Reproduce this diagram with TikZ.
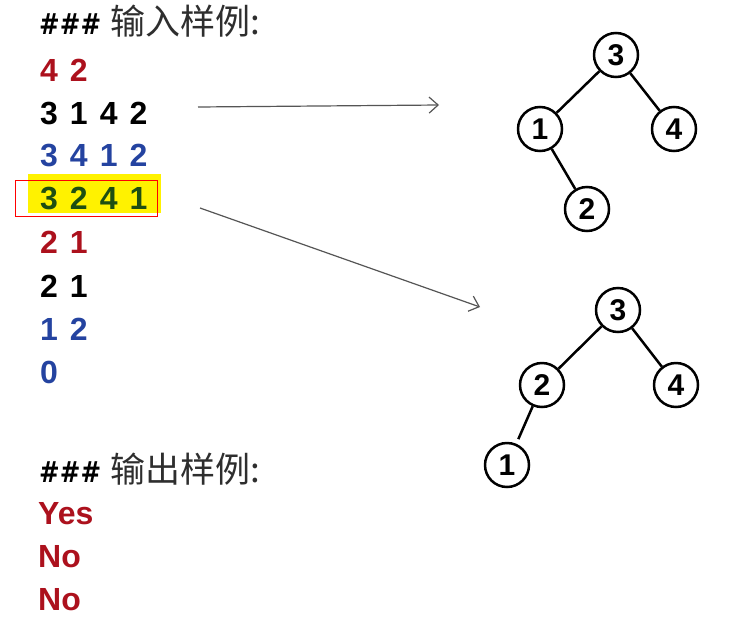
\documentclass[tikz,border=0pt]{standalone}
\usepackage{fontspec}
\setmainfont{Liberation Sans}
\newfontfamily\cjk{Noto Sans CJK SC}
\newfontfamily\hashfont{DejaVu Sans}
\usetikzlibrary{arrows.meta}
\definecolor{cred}{HTML}{AC111D}
\definecolor{cblue}{HTML}{2443A0}
\definecolor{cgreen}{HTML}{1E4E12}
\definecolor{cgray}{HTML}{2E2E2E}
\definecolor{carrow}{HTML}{555555}
\newcommand\myseqfont{\fontsize{32}{32}\selectfont\bfseries\spaceskip=12pt plus 0pt minus 0pt\relax}
\newcommand\myhashes{\scalebox{0.85}[1]{\hashfont\bfseries\fontsize{29}{29}\selectfont\#\#\#}}
\begin{document}
\begin{tikzpicture}[x=1pt,y=-1pt,
  seq/.style={anchor=base west, inner sep=0pt, font=\myseqfont},
  ans/.style={anchor=base west, inner sep=0pt, text=cred, font=\fontsize{32}{32}\selectfont\bfseries},
  head/.style={anchor=base west, inner sep=0pt},
  tnode/.style={circle, draw, line width=2.5pt, minimum size=44pt, inner sep=0pt, font=\fontsize{30}{30}\selectfont\bfseries},
  treelink/.style={line width=2.5pt},
  arr/.style={draw=carrow, line width=1.2pt, -{Straight Barb[length=9pt,width=16pt]}}]
\useasboundingbox (0,0) rectangle (733,624);
\fill[white] (0,0) rectangle (733,624);

% header
\node[head] (h1) at (39,34) {\myhashes\hspace{9pt}{\cjk\fontsize{35}{35}\selectfont\color{cgray}输入样例:}};

% highlight
\fill[yellow] (28,174) rectangle (161,213);
\draw[red, line width=1pt] (15,180) rectangle (157,216);

% input lines
\node[seq, text=cred]   (l1) at (40,81)  {4 2};
\node[seq, text=black]  (l2) at (40,124) {3 1 4 2};
\node[seq, text=cblue]  (l3) at (40,166) {3 4 1 2};
\node[seq, text=cgreen] (l4) at (40,209) {3 2 4 1};
\node[seq, text=cred]   (l5) at (40,253) {2 1};
\node[seq, text=black]  (l6) at (40,297) {2 1};
\node[seq, text=cblue]  (l7) at (40,340) {1 2};
\node[seq, text=cblue]  (l8) at (40,383) {0};

% output header
\node[head] (h2) at (39,482) {\myhashes\hspace{9pt}{\cjk\fontsize{35}{35}\selectfont\color{cgray}输出样例:}};
\node[ans] (o1) at (38,524) {Yes};
\node[ans] (o2) at (38,567) {No};
\node[ans] (o3) at (38,610) {No};

% arrows
\coordinate (a1s) at (198,107);
\coordinate (a1e) at (439,105);
\coordinate (a2s) at (200,208);
\coordinate (a2e) at (480,307);
\draw[arr] (a1s) -- (a1e);
\draw[arr] (a2s) -- (a2e);

% tree 1
\node[tnode] (t1c) at (616,55)  {3};
\node[tnode] (t1a) at (540,129) {1};
\node[tnode] (t1d) at (674,129) {4};
\node[tnode] (t1b) at (587,209) {2};
\draw[treelink] (t1c) -- (t1a);
\draw[treelink] (t1c) -- (t1d);
\draw[treelink] (t1a) -- (t1b);

% tree 2
\node[tnode] (t2c) at (618,310) {3};
\node[tnode] (t2b) at (542,385) {2};
\node[tnode] (t2d) at (676,385) {4};
\node[tnode] (t2a) at (507,465) {1};
\draw[treelink] (t2c) -- (t2b);
\draw[treelink] (t2c) -- (t2d);
\draw[treelink, shorten >=5pt] (t2b) -- (t2a);
\end{tikzpicture}
\end{document}
